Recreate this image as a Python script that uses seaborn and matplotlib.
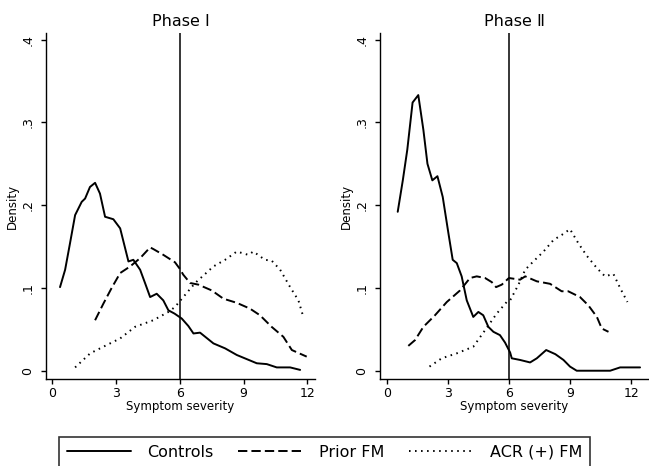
import pandas as pd
import matplotlib
matplotlib.use('Agg')
import matplotlib.pyplot as plt
import seaborn as sns

# --- valores ---
grupos = ['Controls', 'Prior FM', 'ACR (+) FM']
titulos = ['Phase Ⅰ', 'Phase Ⅱ']
x_ticks = [0, 3, 6, 9, 12]
y_ticks = [0, .1, .2, .3, .4]
y_tick_labels = ['0', '.1', '.2', '.3', '.4']
corte = 6

# Phase I
f1_ctrl_x = [0.36, 0.6, 0.83, 1.07, 1.38, 1.54, 1.77, 2.01, 2.24, 2.48, 2.87, 3.19, 3.58, 3.81,
             4.13, 4.36, 4.6, 4.91, 5.22, 5.46, 5.75, 6.09, 6.4, 6.64, 6.95, 7.58, 8.13, 8.68,
             9.15, 9.62, 10.09, 10.56, 11.19, 11.66]
f1_ctrl_y = [.101, .122, .154, .188, .204, .208, .222, .227, .214, .186, .183, .172, .132, .134,
             .122, .106, .089, .093, .085, .073, .069, .063, .054, .045, .046, .033, .027, .019,
             .014, .009, .008, .004, .004, .001]
f1_prior_x = [2.01, 2.4, 2.79, 3.19, 3.66, 4.13, 4.6, 4.75, 5.22, 5.77, 6.0, 6.16, 6.48, 6.87,
              7.5, 8.05, 8.68, 9.3, 9.77, 10.32, 10.87, 11.27, 11.97]
f1_prior_y = [.061, .081, .100, .118, .126, .136, .149, .147, .140, .131, .123, .116, .106, .104,
              .097, .087, .082, .075, .067, .053, .041, .025, .017]
f1_acr_x = [1.07, 1.78, 2.4, 3.19, 3.89, 4.75, 5.46, 5.77, 6.16, 6.72, 7.58, 8.13, 8.68, 9.22,
            9.46, 10.0, 10.32, 10.72, 11.19, 11.58, 11.81]
f1_acr_y = [.004, .021, .029, .039, .053, .061, .071, .077, .089, .106, .126, .134, .144, .140,
            .144, .134, .133, .122, .101, .085, .065]

# Phase II
f2_ctrl_x = [0.54, 0.79, 1.01, 1.27, 1.55, 1.8, 2.0, 2.24, 2.49, 2.75, 3.03, 3.24, 3.44, 3.68,
             3.93, 4.25, 4.5, 4.74, 4.99, 5.24, 5.56, 5.81, 6.06, 6.14, 6.55, 7.04, 7.37, 7.83,
             8.28, 8.68, 9.0, 9.33, 10.97, 11.46, 12.44]
f2_ctrl_y = [.192, .230, .267, .324, .333, .291, .250, .230, .235, .210, .166, .134, .130, .114,
             .085, .065, .071, .067, .053, .047, .043, .034, .022, .015, .013, .010, .015, .025,
             .020, .013, .005, .0, .0, .004, .004]
f2_prior_x = [1.06, 1.39, 1.8, 2.37, 2.95, 3.6, 4.09, 4.42, 4.83, 5.16, 5.37, 5.65, 6.0, 6.55,
              6.8, 7.37, 8.02, 8.59, 8.91, 9.49, 9.9, 10.32, 10.56, 10.89]
f2_prior_y = [.030, .037, .053, .067, .083, .097, .112, .114, .112, .107, .101, .104, .112, .110,
              .114, .108, .105, .096, .096, .089, .079, .065, .051, .047]
f2_acr_x = [2.1, 2.7, 3.44, 4.25, 4.83, 5.4, 5.89, 6.06, 6.47, 6.8, 7.2, 7.7, 8.19, 8.59, 9.0,
            9.41, 9.82, 10.32, 10.72, 11.13, 11.46, 11.82]
f2_acr_y = [.005, .015, .021, .029, .049, .069, .083, .085, .104, .122, .132, .144, .158, .164,
            .171, .154, .139, .124, .114, .117, .100, .083]


def monta_df(series):
    partes = []
    for nome, (xs, ys) in zip(grupos, series):
        partes.append(pd.DataFrame({'x': xs, 'y': ys, 'grupo': nome}))
    return pd.concat(partes, ignore_index=True)


dfs = [
    monta_df([(f1_ctrl_x, f1_ctrl_y), (f1_prior_x, f1_prior_y), (f1_acr_x, f1_acr_y)]),
    monta_df([(f2_ctrl_x, f2_ctrl_y), (f2_prior_x, f2_prior_y), (f2_acr_x, f2_acr_y)]),
]

sns.set_theme(style='ticks')
plt.rcParams['font.family'] = ['DejaVu Sans']

fig = plt.figure(figsize=(6.49, 4.66), dpi=100)
# posições dos eixos em coordenadas da figura
eixos = [
    fig.add_axes([46 / 649, 87 / 466, (315 - 46) / 649, 346 / 466]),
    fig.add_axes([380 / 649, 87 / 466, (648 - 380) / 649, 346 / 466]),
]
limites_x = [(-0.30, 12.36), (-0.33, 12.83)]

estilos = {'Controls': '', 'Prior FM': (4.8, 2.1), 'ACR (+) FM': (0.8, 2.3)}

for i, ax in enumerate(eixos):
    sns.lineplot(data=dfs[i], x='x', y='y', style='grupo', style_order=grupos,
                 dashes=estilos, color='black', linewidth=1.4, estimator=None,
                 legend=(i == 0), ax=ax)
    ax.axvline(corte, color='black', linewidth=1.1)
    ax.set_xlim(*limites_x[i])
    ax.set_ylim(-0.010, 0.408)
    ax.set_xticks(x_ticks)
    ax.set_yticks(y_ticks)
    ax.set_yticklabels(y_tick_labels, rotation=90, va='center')
    ax.tick_params(axis='both', direction='out', length=3.5, width=1, color='black',
                   labelsize=9, labelcolor='black')
    ax.tick_params(axis='y', pad=5)
    ax.tick_params(axis='x', pad=2)
    for lado in ['top', 'right']:
        ax.spines[lado].set_visible(False)
    for lado in ['left', 'bottom']:
        ax.spines[lado].set_color('black')
        ax.spines[lado].set_linewidth(1.0)
    ax.set_xlabel('Symptom severity', fontsize=8.5, labelpad=0, color='black')
    ax.set_ylabel('Density', fontsize=8.5, labelpad=2, color='black')
    ax.set_title(titulos[i], fontsize=11.5, pad=5, color='black')
    ax.set_facecolor('white')

handles, labels = eixos[0].get_legend_handles_labels()
eixos[0].get_legend().remove()
leg = fig.legend(handles, labels, loc='upper center', bbox_to_anchor=(0.5, 29 / 466),
                 ncol=3, frameon=True, fancybox=False, edgecolor='black', fontsize=11.5,
                 handlelength=4.0, handletextpad=1.05, columnspacing=1.55, borderpad=0.5,
                 borderaxespad=0)
leg.get_frame().set_linewidth(1.2)
for t in leg.get_texts():
    t.set_color('black')

fig.savefig('out.png', dpi=100, facecolor='white')
